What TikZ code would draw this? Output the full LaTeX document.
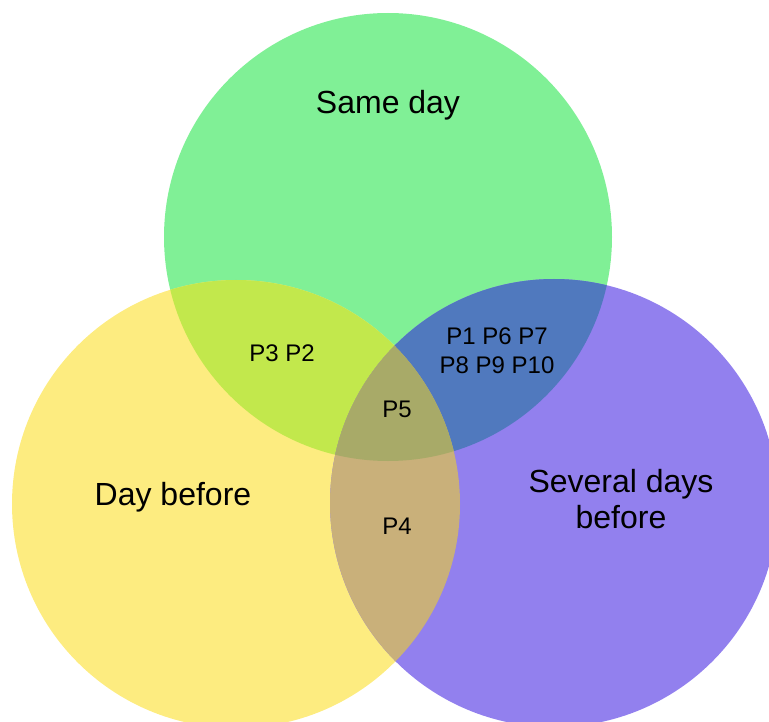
\documentclass[tikz,border=0pt]{standalone}
\usepackage{fontspec}
\setmainfont{Liberation Sans}
\definecolor{cgreen}{RGB}{128,240,150}
\definecolor{cyellow}{RGB}{253,236,128}
\definecolor{cpurple}{RGB}{146,128,238}
\definecolor{cgy}{RGB}{194,232,76}
\definecolor{cgp}{RGB}{80,121,190}
\definecolor{cyp}{RGB}{201,176,122}
\definecolor{cgyp}{RGB}{168,170,104}
\tikzset{
  bigl/.style={font=\fontsize{32}{36}\selectfont, align=center, inner sep=0pt},
  smalll/.style={font=\fontsize{24}{29}\selectfont, align=center, inner sep=0pt}
}
\begin{document}
\begin{tikzpicture}[x=1pt,y=-1pt]
\useasboundingbox (0,0) rectangle (769,722);
\coordinate (G) at (388,237);
\coordinate (Y) at (236,504);
\coordinate (P) at (554,503);
\def\R{224pt}
\fill[cgreen] (G) circle[radius=\R];
\fill[cyellow] (Y) circle[radius=\R];
\fill[cpurple] (P) circle[radius=\R];
\begin{scope}
  \clip (G) circle[radius=\R];
  \fill[cgy] (Y) circle[radius=\R];
  \fill[cgp] (P) circle[radius=\R];
\end{scope}
\begin{scope}
  \clip (Y) circle[radius=\R];
  \fill[cyp] (P) circle[radius=\R];
\end{scope}
\begin{scope}
  \clip (G) circle[radius=\R];
  \clip (Y) circle[radius=\R];
  \fill[cgyp] (P) circle[radius=\R];
\end{scope}
\node[bigl] (same) at (388,105) {Same day};
\node[bigl] (day) at (173,497) {Day before};
\node[bigl] (sev) at (621,499) {Several days\\before};
\node[smalll] (p32) at (282,353) {P3 P2};
\node[smalll] (p1) at (497,351) {P1 P6 P7\\P8 P9 P10};
\node[smalll] (p5) at (397,409) {P5};
\node[smalll] (p4) at (397,526) {P4};
\end{tikzpicture}
\end{document}
